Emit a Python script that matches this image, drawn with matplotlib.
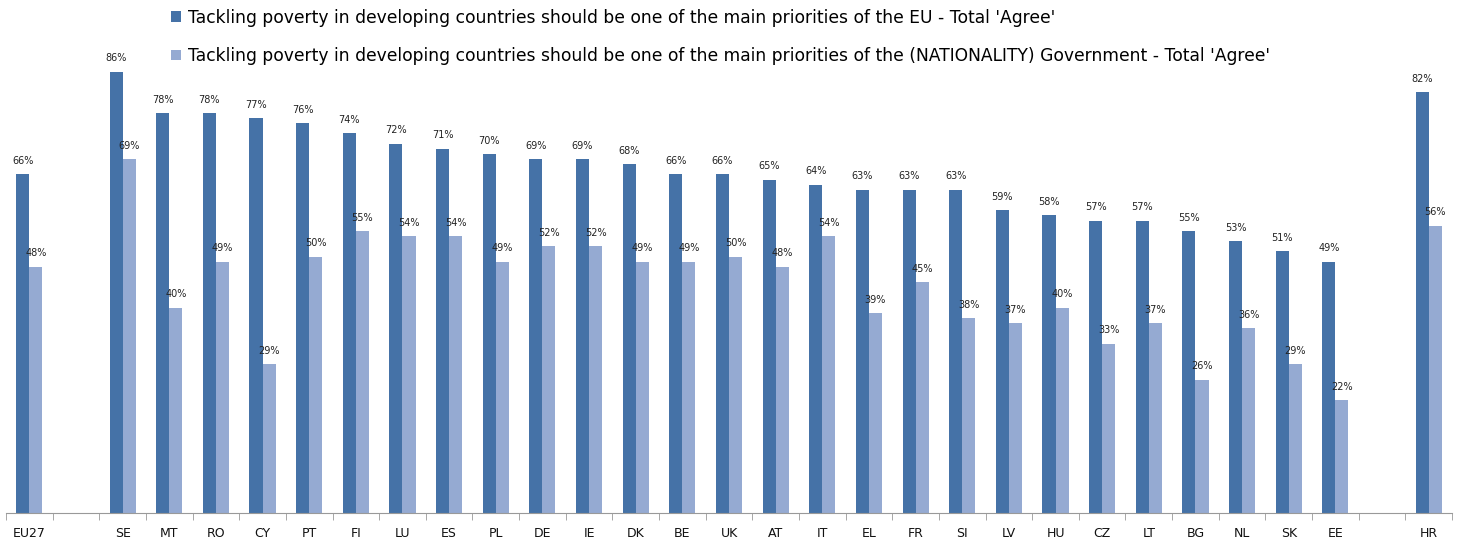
import matplotlib
matplotlib.use("Agg")
import matplotlib.pyplot as plt
import numpy as np

categories = ["EU27", "", "SE", "MT", "RO", "CY", "PT", "FI", "LU", "ES", "PL", "DE", "IE",
              "DK", "BE", "UK", "AT", "IT", "EL", "FR", "SI", "LV", "HU", "CZ", "LT",
              "BG", "NL", "SK", "EE", "", "HR"]
eu_agree = [66, None, 86, 78, 78, 77, 76, 74, 72, 71, 70, 69, 69, 68, 66, 66, 65, 64, 63, 63,
            63, 59, 58, 57, 57, 55, 53, 51, 49, None, 82]
gov_agree = [48, None, 69, 40, 49, 29, 50, 55, 54, 54, 49, 52, 52, 49, 49, 50, 48, 54, 39, 45,
             38, 37, 40, 33, 37, 26, 36, 29, 22, None, 56]
series_labels = [
    "Tackling poverty in developing countries should be one of the main priorities of the EU - Total 'Agree'",
    "Tackling poverty in developing countries should be one of the main priorities of the (NATIONALITY) Government - Total 'Agree'",
]

dark = "#4572A7"
light = "#95AAD2"

fig = plt.figure(figsize=(14.57, 5.41), dpi=100)
ax = fig.add_axes([6 / 1457, 28 / 541, 1446 / 1457, 513 / 541])

n = len(categories)
x = np.arange(n)
w = 0.28
idx = [i for i in range(n) if eu_agree[i] is not None]
xe = np.array(idx) - w / 2
xg = np.array(idx) + w / 2
ve = [eu_agree[i] for i in idx]
vg = [gov_agree[i] for i in idx]

b1 = ax.bar(xe, ve, w, color=dark, label=series_labels[0])
b2 = ax.bar(xg, vg, w, color=light, label=series_labels[1])

for xs, vs in ((xe, ve), (xg, vg)):
    for xx, v in zip(xs, vs):
        ax.annotate(f"{v}%", (xx, v), xytext=(0, 6), textcoords="offset points",
                    ha="center", va="bottom", fontsize=7, color="#222222")

ax.set_xlim(-0.5, n - 0.5)
ax.set_ylim(0, 100)
ax.set_yticks([])
for s in ("top", "right", "left"):
    ax.spines[s].set_visible(False)
ax.spines["bottom"].set_color("#999999")
ax.set_xticks(x)
ax.set_xticklabels(categories, fontsize=9, color="#111111")
ax.tick_params(axis="x", which="major", length=0, pad=10)
ax.set_xticks(np.arange(-0.5, n, 1.0), minor=True)
ax.tick_params(axis="x", which="minor", length=5, color="#999999", direction="out")

leg = fig.legend(handles=[b1, b2], labels=series_labels, loc="upper left",
                 bbox_to_anchor=(162 / 1457, 1.0), frameon=False, fontsize=12.3,
                 handlelength=0.6, handleheight=0.6, handletextpad=0.45,
                 labelspacing=1.2, borderaxespad=0.1)

fig.savefig("out.png", dpi=100)
